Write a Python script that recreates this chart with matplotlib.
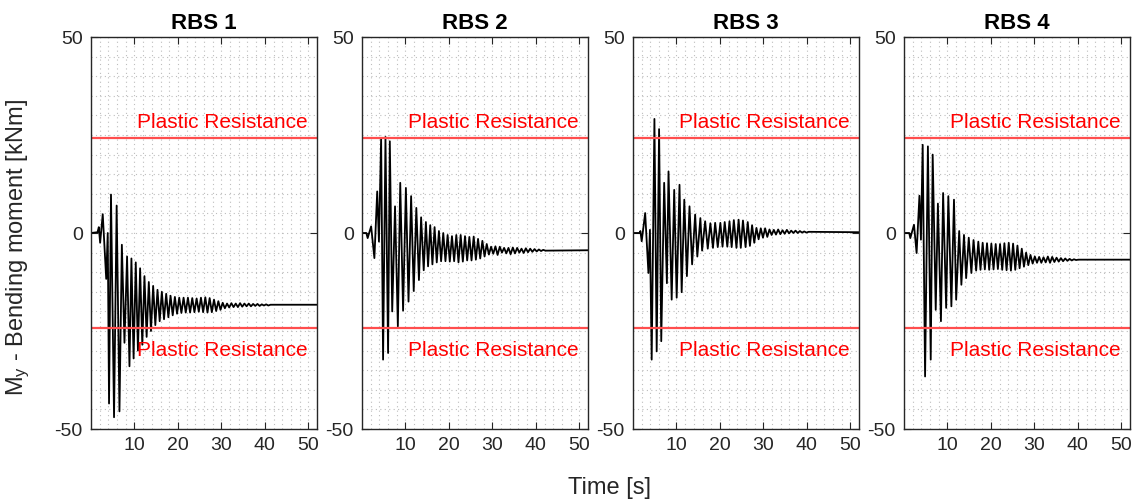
import matplotlib
matplotlib.use("Agg")
import matplotlib.pyplot as plt
from matplotlib.ticker import MultipleLocator

plt.rcParams["font.family"] = ["Liberation Sans", "DejaVu Sans"]
plt.rcParams["mathtext.default"] = "regular"
plt.rcParams["axes.unicode_minus"] = False

## DATOS (extremos)

titulos = ["RBS 1", "RBS 2", "RBS 3", "RBS 4"]
plastic_res = 24.3

t_rbs1 = [0, 1.5, 1.8, 2.1, 2.7, 3.5, 3.85, 4.15, 4.6, 5.3, 5.9, 6.55, 7.1, 7.7, 8.3, 8.85,
          9.3, 9.8, 10.3, 10.8, 11.3, 11.8, 12.3, 12.8, 13.3, 13.8, 14.3, 14.8, 15.3, 15.8,
          16.3, 16.8, 17.3, 17.8, 18.3, 18.8, 19.3, 19.8, 20.3, 20.8, 21.3, 21.8, 22.3, 22.8,
          23.3, 23.8, 24.3, 24.8, 25.3, 25.8, 26.3, 26.8, 27.3, 27.8, 28.3, 28.8, 29.3, 29.8,
          30.3, 30.8, 31.3, 31.8, 32.3, 32.8, 33.3, 33.8, 34.3, 34.8, 35.3, 35.8, 36.3, 36.8,
          37.3, 37.8, 38.3, 38.8, 39.3, 39.8, 40.3, 40.8, 41.3, 52]
m_rbs1 = [0, 0.2, 1.5, -2.5, 4.8, -11.7, 0, -43.5, 9.8, -47, 7, -45.5, -3, -28, -6, -34,
          -6.5, -32, -7.5, -30, -9, -28.5, -11, -26.5, -12.5, -25, -13.5, -23.5, -14.5, -22.5,
          -15, -22, -15.5, -21.5, -16, -21, -16.3, -20.6, -16.5, -20.4, -16.5, -20.3, -16.5, -20.3,
          -16.6, -20.2, -16.7, -20.1, -16.5, -20.2, -16.4, -20.3, -16.6, -20.2, -17.0, -19.9, -17.4, -19.6,
          -17.8, -19.2, -18.0, -19.0, -17.9, -18.9, -18.0, -18.9, -17.9, -18.8, -18.0, -18.7, -18.0, -18.7,
          -18.1, -18.6, -18.1, -18.6, -18.2, -18.5, -18.2, -18.5, -18.3, -18.3]

t_rbs2 = [0, 1.0, 1.3, 2.1, 2.85, 3.5, 3.9, 4.4, 4.85, 5.4, 6.0, 6.4, 6.95, 7.6, 8.25, 8.8,
          9.45, 10.1, 10.7, 11.3, 11.9, 12.5, 13.1, 13.6, 14.2, 14.7, 15.2, 15.7, 16.2, 16.7,
          17.2, 17.7, 18.2, 18.7, 19.2, 19.7, 20.2, 20.7, 21.2, 21.7, 22.2, 22.7, 23.2, 23.7,
          24.2, 24.7, 25.2, 25.7, 26.2, 26.7, 27.2, 27.7, 28.2, 28.7, 29.2, 29.7, 30.2, 30.7,
          31.2, 31.7, 32.2, 32.7, 33.2, 33.7, 34.2, 34.7, 35.2, 35.7, 36.2, 36.7, 37.2, 37.7,
          38.2, 38.7, 39.2, 39.7, 40.2, 40.7, 41.2, 41.7, 42.2, 52]
m_rbs2 = [0, 0, -1.3, 1.7, -6.4, 10.6, -2.2, 24.2, -32.3, 24.5, -30.6, 23.4, -20, 6.8, -23.8, 12.8,
          -19.8, 11.5, -17.5, 9.4, -14.8, 6.4, -12, 4, -9.5, 2.8, -8.5, 2, -8, 1.5,
          -7.5, 0.5, -7.2, 0, -7.2, -0.5, -7.3, -0.8, -7.2, -0.5, -7.5, -0.5, -7.3, -0.8,
          -7.0, -1.0, -7.0, -0.9, -6.8, -1.5, -6.5, -2.0, -6.0, -2.8, -5.5, -3.5, -5.3, -3.4,
          -5.6, -3.5, -5.0, -3.8, -5.2, -3.8, -5.4, -3.7, -5.2, -3.8, -5.0, -4.0, -5.1, -3.9,
          -4.9, -4.0, -4.8, -4.1, -4.7, -4.2, -4.6, -4.3, -4.5, -4.4]

t_rbs3 = [0, 1.5, 1.7, 2.0, 2.8, 3.55, 3.9, 4.3, 4.93, 5.45, 6.0, 6.5, 7.17, 7.8, 8.17, 8.9,
          9.48, 10.05, 10.7, 11.2, 11.8, 12.4, 13.0, 13.6, 14.3, 14.8, 15.5, 15.9, 16.6, 17.2,
          17.8, 18.4, 18.9, 19.5, 20.1, 20.6, 21.1, 21.7, 22.2, 22.7, 23.2, 23.8, 24.3, 24.8,
          25.3, 25.9, 26.4, 26.9, 27.4, 27.9, 28.4, 28.9, 29.4, 29.9, 30.4, 30.9, 31.4, 31.9,
          32.4, 32.9, 33.4, 33.9, 34.4, 34.9, 35.4, 35.9, 36.4, 36.9, 37.4, 37.9, 38.4, 38.9,
          39.4, 39.9, 40.4, 52]
m_rbs3 = [0, 0, 0.5, -2.1, 5.1, -10.2, 0.8, -32.3, 29.1, -30.2, 26.5, -27.6, 12.8, -12.8, 15.7, -17,
          11.0, -16.5, 12.3, -15.1, 8.5, -11, 6.8, -8, 4.7, -6, 3.8, -4.5, 3.0, -4,
          2.5, -3.8, 2.6, -3.6, 2.6, -3.5, 2.8, -3.5, 3.0, -3.6, 3.3, -3.8, 3.4, -3.8,
          3.2, -3.6, 2.8, -3.3, 2.0, -2.5, 1.3, -1.6, 1.2, -1.2, 1.2, -1.0, 0.9, -0.5,
          0.8, -0.4, 0.9, -0.3, 0.7, -0.2, 0.8, -0.1, 0.6, 0.0, 0.6, 0.0, 0.5, 0.1,
          0.4, 0.1, 0.3, 0.2]

t_rbs4 = [0, 1.2, 1.45, 2.3, 2.9, 3.55, 3.9, 4.3, 4.85, 5.5, 6.15, 6.6, 7.3, 7.8, 8.5, 9.0,
          9.7, 10.2, 10.9, 11.5, 12.0, 12.7, 13.2, 13.8, 14.3, 14.9, 15.5, 16.0, 16.6, 17.1,
          17.6, 18.1, 18.6, 19.1, 19.6, 20.1, 20.6, 21.1, 21.6, 22.1, 22.6, 23.1, 23.6, 24.1,
          24.6, 25.1, 25.6, 26.1, 26.6, 27.1, 27.6, 28.1, 28.6, 29.1, 29.6, 30.1, 30.6, 31.1,
          31.6, 32.1, 32.6, 33.1, 33.6, 34.1, 34.6, 35.1, 35.6, 36.1, 36.6, 37.1, 37.6, 38.1,
          38.6, 39.1, 39.6, 40.1, 52]
m_rbs4 = [0, 0, -1.3, 2.1, -5.1, 9.5, -1.7, 22.5, -36.6, 22.1, -32.3, 20, -19.6, 7.5, -22.5, 10.2,
          -19.1, 9.4, -18.7, 8.5, -17, 0.5, -13.2, -0.5, -11.5, -1.2, -10.2, -1.8, -9.6, -2.2,
          -9.4, -2.5, -9.3, -2.6, -9.4, -2.7, -9.3, -2.8, -9.2, -2.8, -9.4, -2.6, -9.5, -2.5,
          -9.6, -2.7, -9.4, -3.2, -9.0, -4.0, -8.6, -5.0, -8.2, -5.6, -7.8, -6.0, -7.6, -6.1,
          -7.6, -6.2, -7.5, -6.0, -7.6, -6.1, -7.4, -6.3, -7.3, -6.4, -7.2, -6.5, -7.1, -6.6,
          -7.0, -6.7, -6.9, -6.8, -6.8]

tiempos = [t_rbs1, t_rbs2, t_rbs3, t_rbs4]
momentos = [m_rbs1, m_rbs2, m_rbs3, m_rbs4]

## FIGURA

gris = "#262626"
fig = plt.figure(figsize=(11.37, 5.04), dpi=100)
izquierdas = [91, 362, 633, 904]

for i in range(4):
    ax = fig.add_axes([izquierdas[i] / 1137, 75 / 504, 226 / 1137, 392 / 504])
    ax.plot(tiempos[i], momentos[i], color="black", lw=1.3)

    ax.axhline(plastic_res, color="#ff4d4d", lw=1.6)
    ax.axhline(-plastic_res, color="#ff4d4d", lw=1.6)
    ax.annotate("Plastic Resistance", xy=(49.8, plastic_res), xytext=(0, 4),
                textcoords="offset points", ha="right", va="bottom", color="red", fontsize=15)
    ax.annotate("Plastic Resistance", xy=(49.8, -plastic_res), xytext=(0, -9),
                textcoords="offset points", ha="right", va="top", color="red", fontsize=15)

    ax.set_xlim(0, 52)
    ax.set_ylim(-50, 50)
    ax.set_xticks([10, 20, 30, 40, 50])
    ax.set_yticks([-50, 0, 50])
    ax.xaxis.set_minor_locator(MultipleLocator(2))
    ax.yaxis.set_minor_locator(MultipleLocator(5))
    ax.grid(which="both", color="#bdbdbd", linestyle=(0, (1, 3)), lw=0.8)
    ax.tick_params(which="major", direction="in", top=True, right=True, length=5,
                   labelsize=14, colors=gris, labelcolor=gris, pad=6)
    ax.tick_params(which="minor", length=0)
    for s in ax.spines.values():
        s.set_color(gris)
        s.set_linewidth(1.0)

    ax.set_title(titulos[i], fontsize=16, fontweight="bold", pad=6)

fig.text(610 / 1137, 16 / 504, "Time [s]", ha="center", va="center", fontsize=17, color=gris)
fig.text(18 / 1137, 256 / 504, "M$_y$ - Bending moment [kNm]", ha="center", va="center",
         rotation=90, fontsize=17, color=gris)

fig.savefig("out.png", dpi=100)
